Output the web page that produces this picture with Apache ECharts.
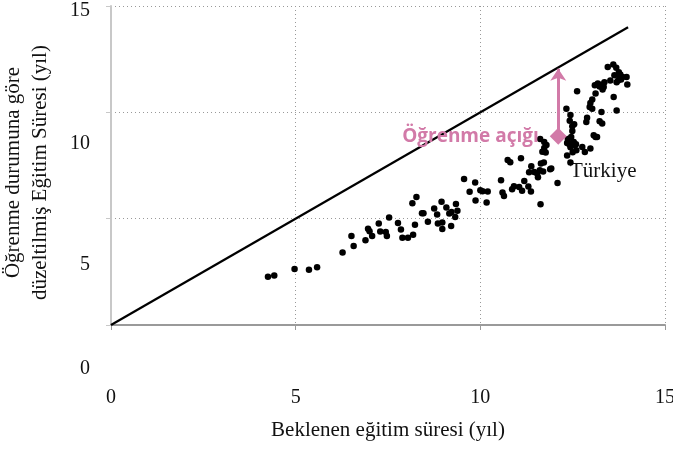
<!DOCTYPE html>
<html>
<head>
<meta charset="utf-8">
<script src="https://cdn.jsdelivr.net/npm/echarts@6/dist/echarts.min.js"></script>
<style>
  html, body { margin: 0; padding: 0; background: #fff; }
  #chart-container { width: 673px; height: 450px; }
</style>
</head>
<body>
<div id="chart-container"></div>
<script>
// Beklenen eğitim süresi (x) ve öğrenmeye göre düzeltilmiş süre (y), ülke başına
var expectedYears = [4.25,4.42,4.97,5.36,5.58,6.27,6.51,6.57,6.89,6.96,7.00,7.07,7.25,7.29,7.44,7.47,7.53,7.77,7.85,7.89,8.04,8.18,8.23,
  8.16,8.27,8.42,8.46,8.58,8.75,8.83,8.85,8.95,8.97,8.97,9.08,9.16,9.22,9.32,9.34,9.38,9.21,
  9.56,9.71,9.86,9.87,10.00,10.06,10.20,10.17,10.56,10.60,10.64,
  10.74,10.81,11.10,
  10.86,10.91,11.05,11.13,11.19,11.30,11.37,
  11.32,11.38,11.46,11.54,11.56,11.61,11.64,11.70,11.72,
  11.68,11.73,11.77,11.79,11.62,11.73,11.63,
  12.09,11.89,11.92,
  12.35,12.41,12.44,12.49,12.56,12.35,12.44,12.50,12.44,12.54,
  12.62,12.33,12.42,12.49,12.49,12.46,12.37,12.53,12.59,12.60,12.76,12.83,12.98,
  12.87,12.89,12.96,13.03,12.98,13.03,13.12,13.10,13.18,13.23,13.30,13.36,13.34,13.31,13.23,13.28,13.30,13.07,13.12,13.16,
  13.69,13.61,13.52,13.45,13.60,13.68,13.75,13.79,13.85,13.77,13.81,13.96,13.98,13.69,13.63,13.73];
var adjustedYears = [2.27,2.33,2.63,2.60,2.72,3.41,4.19,3.72,3.99,4.52,4.41,4.19,4.77,4.40,4.37,4.18,5.06,4.80,4.49,4.10,4.10,4.24,4.71,
  5.73,6.02,5.26,5.26,4.85,5.48,5.20,4.77,5.79,4.82,4.51,5.53,5.24,5.31,5.08,5.69,5.37,4.65,
  6.87,6.27,6.70,5.85,6.34,6.29,6.28,5.76,6.81,6.23,6.06,
  7.76,7.65,7.84,
  6.38,6.53,6.49,6.31,6.77,6.51,6.28,
  7.18,7.46,7.20,7.12,6.95,7.28,7.59,7.22,7.64,
  8.15,8.32,8.11,8.46,8.75,8.61,5.68,
  6.68,7.32,7.36,
  8.56,8.50,8.36,8.56,8.46,7.97,7.64,8.12,9.87,9.44,
  10.99,10.17,9.61,9.34,9.12,8.84,8.75,8.61,8.50,8.22,8.37,8.14,8.30,
  9.54,9.75,10.25,10.17,10.44,10.60,10.88,11.27,11.35,11.22,11.31,11.42,11.19,11.07,9.58,10.01,9.47,8.92,8.84,8.84,
  10.09,10.72,11.50,12.13,12.25,12.10,11.89,11.78,11.66,11.66,11.54,11.66,11.31,11.42,11.74,11.50];

var hollowPoint = [13.91, 12.88];
var turkiye = [12.11, 8.87];
var parityLine = [[0, 0], [14, 14]];
var yTickLabels = ['15', '10', '5', '0'];
var xTicks = [0, 5, 10, 15];

var pink = '#d27aa8';
var serif = '"Liberation Serif", "DejaVu Serif", serif';

var points = [];
for (var i = 0; i < Math.min(expectedYears.length, adjustedYears.length); i++) {
  points.push([expectedYears[i], adjustedYears[i]]);
}

var dom = document.getElementById('chart-container');
var myChart = echarts.init(dom, null, { renderer: 'canvas' });

// y ekseni etiketleri orijinalde ızgaradan kaymış duruyor
var yLabelPos = [12, 145, 266, 370];
var graphics = yTickLabels.map(function (t, k) {
  return {
    type: 'text', right: 673 - 90, top: yLabelPos[k] - 11,
    style: { text: t, font: '20px ' + serif, fill: '#111', textAlign: 'right' }
  };
});
graphics.push({
  type: 'text', left: 570, top: 161,
  style: { text: 'Türkiye', font: '21px ' + serif, fill: '#111' }
});

var option = {
  animation: false,
  grid: { left: 111, right: 8, top: 6, bottom: 125, containLabel: false, outerBoundsMode: 'none' },
  xAxis: {
    type: 'value', min: 0, max: 15, interval: 5, offset: 12,
    name: 'Beklenen eğitim süresi (yıl)', nameLocation: 'middle', nameGap: 83,
    nameTextStyle: { fontFamily: serif, fontSize: 21, color: '#111' },
    axisLine: { show: true, lineStyle: { color: '#9a9a9a', width: 2 } },
    axisTick: { show: true, length: 5, lineStyle: { color: '#9a9a9a' } },
    axisLabel: { margin: 51, fontFamily: serif, fontSize: 20, color: '#111',
      formatter: function (v) { return xTicks.indexOf(v) >= 0 ? String(v) : ''; } },
    splitLine: { show: true, lineStyle: { type: [1, 3], color: '#999' } }
  },
  yAxis: {
    type: 'value', min: 0, max: 15, interval: 5, offset: 11,
    name: 'Öğrenme durumuna göre\ndüzeltilmiş Eğitim Süresi (yıl)',
    nameLocation: 'middle', nameRotate: 90, nameGap: 46,
    nameTextStyle: { fontFamily: serif, fontSize: 21, color: '#111', lineHeight: 27, padding: [0, 14, 0, 0] },
    axisLine: { show: true, lineStyle: { color: '#c8c8c8', width: 2 } },
    axisTick: { show: true, length: 5, lineStyle: { color: '#c8c8c8' } },
    axisLabel: { show: false },
    splitLine: { show: true, lineStyle: { type: [1, 3], color: '#999' } }
  },
  graphic: graphics,
  series: [
    {
      type: 'line', data: parityLine, symbol: 'none',
      lineStyle: { color: '#000', width: 2.2 }, z: 2
    },
    {
      type: 'scatter', data: points, symbolSize: 6.5,
      itemStyle: { color: '#000', opacity: 1 }, z: 3
    },
    {
      type: 'scatter', data: [hollowPoint], symbol: 'emptyCircle', symbolSize: 5,
      itemStyle: { color: '#fff', borderColor: '#555', borderWidth: 1, opacity: 1 }, z: 3
    },
    {
      type: 'scatter', data: [turkiye], symbol: 'diamond', symbolSize: [17, 17],
      itemStyle: { color: pink, opacity: 1 }, z: 5,
      label: {
        show: true, position: 'left', distance: 11,
        formatter: 'Öğrenme açığı',
        fontFamily: '"Open Sans", Lato, sans-serif', fontWeight: 'bold', fontSize: 19, color: pink
      },
      markLine: {
        silent: true, symbol: ['none', 'arrow'], symbolSize: [12, 12],
        lineStyle: { color: pink, width: 3, type: 'solid' },
        label: { show: false },
        data: [[{ coord: [turkiye[0], turkiye[1] + 0.3] }, { coord: [turkiye[0], 12.05] }]]
      }
    }
  ]
};

myChart.setOption(option);
window.addEventListener('resize', myChart.resize);
</script>
</body>
</html>
